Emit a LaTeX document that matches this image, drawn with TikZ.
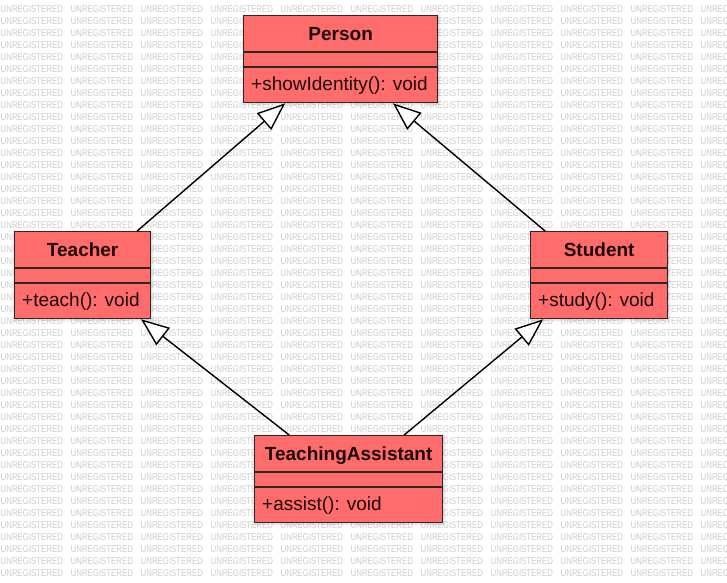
\documentclass[tikz,border=0pt]{standalone}
\usepackage{fontspec}
\setmainfont{Liberation Sans}
\newfontfamily\wmfont[FakeStretch=0.8]{Liberation Sans}
\usetikzlibrary{arrows.meta,calc}
\definecolor{boxfill}{RGB}{255,108,108}
\definecolor{boxline}{RGB}{48,36,36}
\definecolor{wmgray}{RGB}{204,204,204}
\definecolor{txt}{RGB}{30,8,8}

\newcommand\umlclass[6]{%
  \foreach \s in {1,2,3,4}{%
    \fill[black,opacity=0.035] (#2+3-\s,#3+3-\s) rectangle (#2+#4+\s,#3+87+\s);
  }
  \node[classbox, minimum width=#4pt] (#1) at (#2,#3) {};
  \draw[divider] ($(#1.north west)+(0,37)$) -- ($(#1.north east)+(0,37)$);
  \draw[divider] ($(#1.north west)+(0,52)$) -- ($(#1.north east)+(0,52)$);
  \node[titletext] (#1-title) at ($(#1.north)+(0,25.5)$) {#5};
  \node[optext] (#1-op) at ($(#1.north west)+(8,75.5)$) {#6};
}

\begin{document}
\begin{tikzpicture}[x=1pt,y=-1pt,
  classbox/.style={draw=boxline, line width=1.3pt, fill=boxfill, inner sep=0pt,
    anchor=north west, minimum height=87pt},
  divider/.style={draw=boxline, line width=1.2pt},
  titletext/.style={anchor=base, inner sep=0pt, text=txt, font=\fontsize{19}{22}\selectfont\bfseries},
  optext/.style={anchor=base west, inner sep=0pt, text=txt, font=\fontsize{19}{22}\selectfont},
  wmtext/.style={anchor=west, inner sep=0pt, text=wmgray, font=\wmfont\fontsize{9.8}{10}\selectfont},
  gen/.style={draw=black, line width=1.4pt,
    -{Triangle[length=28pt,width=22pt,fill=white,line width=1.4pt]}}
]
\useasboundingbox (0,0) rectangle (727,582);
\fill[white] (0,0) rectangle (727,582);

% watermark
\foreach \r in {0,...,47}{
  \foreach \c in {0,...,10}{
    \node[wmtext] (wm-\r-\c) at (\c*70+0.5, 9+\r*12) {UNREGISTERED};
  }
}

% classes
\umlclass{person}{243}{15}{194}{Person}{+showIdentity(): void}
\umlclass{teacher}{14}{231}{136}{Teacher}{+teach(): void}
\umlclass{student}{530}{231}{137}{Student}{+study(): void}
\umlclass{ta}{254}{435}{188}{TeachingAssistant}{+assist(): void}

% generalizations
\draw[gen] ($(teacher.north west)!0.897!(teacher.north east)$) -- ($(person.south west)!0.216!(person.south east)$);
\draw[gen] ($(student.north west)!0.109!(student.north east)$) -- ($(person.south west)!0.768!(person.south east)$);
\draw[gen] ($(ta.north west)!0.186!(ta.north east)$) -- ($(teacher.south west)!0.926!(teacher.south east)$);
\draw[gen] ($(ta.north west)!0.793!(ta.north east)$) -- ($(student.south west)!0.095!(student.south east)$);
\end{tikzpicture}
\end{document}
